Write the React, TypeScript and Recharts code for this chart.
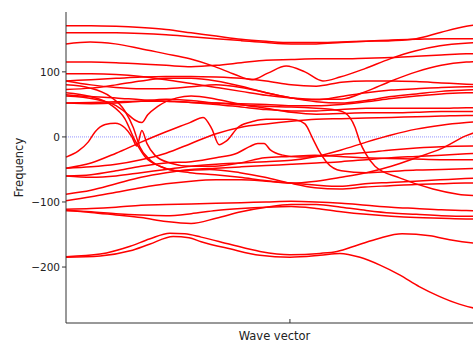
import { LineChart, Line, XAxis, YAxis, ReferenceLine } from 'recharts'

// wave-vector grid (0 = left edge, 100 = right edge of the axes)
const kGrid = [0, 6, 12, 18, 24, 30, 36, 42, 48, 54, 60, 66, 72, 78, 84, 90, 96, 100]
const kTicks = [53.7]
const freqTicks = [-200, -100, 0, 100]

// bands read on the regular grid
const band1 = [171, 171, 170, 168, 165, 160, 155, 150, 147, 145, 145, 146, 147, 148, 151, 161, 170, 174]
const band2 = [160, 160, 160, 159, 157, 154, 151, 148, 145, 143, 143, 145, 147, 149, 150, 151, 151, 151]
const band4 = [115, 115, 114, 112, 110, 108, 110, 114, 118, 119, 120, 120, 121, 122, 124, 126, 128, 128]
const band5 = [97, 97, 96, 93, 88, 82, 76, 70, 64, 60, 58, 58, 70, 86, 100, 110, 115, 116]
const band6 = [86, 88, 90, 92, 93, 93, 92, 90, 86, 80, 78, 84, 86, 86, 85, 83, 81, 80]
const band7 = [86, 80, 76, 74, 74, 77, 80, 76, 68, 60, 57, 62, 68, 72, 74, 76, 77, 77]
const band8 = [73, 75, 80, 86, 90, 90, 86, 78, 68, 60, 54, 52, 56, 62, 66, 70, 72, 73]
const band9 = [65, 62, 60, 57, 55, 53, 52, 51, 50, 48, 48, 50, 54, 59, 63, 66, 68, 68]
const band10 = [52, 53, 54, 55, 55, 53, 50, 46, 42, 40, 40, 42, 44, 44, 44, 44, 45, 45]
const band11 = [-48, -46, -42, -35, -25, -10, 5, 15, 20, 24, 27, 28, 29, 30, 31, 32, 33, 33]
const band12 = [-60, -62, -60, -55, -50, -45, -42, -40, -38, -36, -30, -20, -8, 3, 12, 18, 22, 24]
const band13 = [-88, -82, -72, -62, -55, -50, -48, -46, -44, -42, -40, -38, -35, -32, -30, -28, -26, -25]
const band14 = [-98, -92, -85, -78, -72, -68, -66, -66, -68, -71, -68, -62, -55, -45, -32, -18, 2, 11]
const band15 = [-111, -110, -108, -105, -104, -103, -102, -101, -100, -99, -100, -102, -105, -108, -110, -112, -113, -114]
const band16 = [-113, -116, -120, -124, -130, -133, -125, -115, -108, -104, -104, -108, -113, -117, -119, -121, -122, -122]
const band17 = [-113, -115, -118, -120, -121, -118, -113, -110, -108, -107, -110, -115, -119, -122, -124, -125, -126, -126]

// bands with sharper features, read on their own points [k, frequency]
const band3 = [[0, 143], [5.8, 146], [11.8, 143], [17.7, 136], [23.7, 128], [29.7, 120], [35.7, 108], [40.5, 96], [44.6, 88], [48.4, 98], [52.8, 109], [57.3, 100], [61.6, 86], [65.7, 92], [71.7, 105], [77.7, 120], [83.7, 132], [89.7, 140], [95.7, 144], [100, 145]]
const band18 = [[0, 63], [7, 58], [12, 48], [14.6, 36], [16.5, 26], [18.2, 22], [19.6, 34], [22, 47], [26.6, 60], [30, 63], [36, 58], [42, 50], [48, 44], [54, 38], [60, 35], [66, 36], [72, 37], [78, 37], [84, 38], [90, 39], [100, 39]]
const band19 = [[0, 52], [6, 51], [12, 52], [18, 55], [24, 58], [30, 56], [36, 52], [42, 49], [48, 47], [54, 46], [60, 44], [64, 42], [66.9, 37], [69.3, 15], [70.5, -8], [71.9, -26], [74.1, -45], [80, -63], [88, -80], [94, -88], [100, -91]]
const band20 = [[0, -31], [2.9, -22], [5.3, -8], [7, 8], [9.4, 19], [11.8, 21], [14.1, 14], [15.8, 0], [17, -14], [18.2, 10], [19.4, -10], [21.3, -28], [24.9, -40], [29.7, -45], [35.7, -45], [41.7, -40], [47.7, -32], [53.7, -30], [59.7, -28], [65.7, -30], [71.7, -32], [77.7, -33], [83.7, -34], [89.7, -35], [100, -35]]
const band21 = [[0, -48], [6, -40], [12, -25], [18, -8], [24, 8], [29.7, 22], [32.9, 30], [35, 12], [36.7, -12], [38.5, -6], [41.5, 16], [45, 24], [48, 27], [53, 27], [55.2, 26], [57.3, 20], [59.2, -3], [60.7, -22], [62.4, -38], [66, -52], [72, -55], [78, -53], [84, -51], [90, -50], [100, -48]]
const band22 = [[0, -60], [6, -58], [12, -52], [18, -45], [24, -40], [30, -38], [36, -32], [41, -25], [44, -15], [46, -10], [47.5, -10], [49, -20], [52, -28], [56, -31], [60, -30], [66, -27], [72, -24], [78, -20], [84, -17], [90, -15], [100, -14]]
const band23 = [[0, 80], [5.8, 75], [10.6, 62], [14.1, 40], [16.1, 15], [17.7, -15], [20.1, -35], [23.7, -48], [29.7, -55], [35.7, -58], [41.7, -62], [47.7, -67], [53.7, -71], [59.7, -74], [65.7, -76], [71.7, -72], [77.7, -70], [83.7, -68], [89.7, -66], [95.7, -64], [100, -63]]
const band24 = [[0, 68], [5.8, 62], [10.6, 50], [14.1, 28], [16.5, -5], [18.9, -30], [22.5, -45], [27.3, -52], [34.5, -50], [41.7, -55], [47.7, -62], [53.7, -71], [59.7, -78], [65.7, -80], [71.7, -77], [77.7, -75], [83.7, -73], [89.7, -72], [95.7, -71], [100, -71]]
const band25 = [[0, -184], [8.2, -180], [15.4, -168], [20, -157], [24.9, -148], [28.5, -149], [32.4, -154], [39.3, -165], [46.5, -176], [53.7, -181], [60.9, -179], [65, -176], [70, -166], [75, -156], [80.6, -149], [87.3, -152], [92, -158], [97.8, -163], [100, -164]]
const band26 = [[0, -185], [8.2, -183], [15.4, -175], [20, -165], [25.7, -153], [29.5, -155], [32.4, -161], [39.3, -172], [46.5, -182], [53.7, -185], [60.9, -182], [65.7, -179], [70.5, -185], [75.3, -197], [80, -212], [84.7, -230], [89.5, -245], [94.3, -257], [97.8, -263], [100, -265]]

const gridBands = [band1, band2, band4, band5, band6, band7, band8, band9, band10, band11, band12, band13, band14, band15, band16, band17]
const pointBands = [band3, band18, band19, band20, band21, band22, band23, band24, band25, band26]

const series = [
  ...gridBands.map((vals) => vals.map((f, i) => ({ k: kGrid[i], f }))),
  ...pointBands.map((pts) => pts.map(([k, f]) => ({ k, f }))),
]

const fmt = (v: number) => (v < 0 ? `\u2212${Math.abs(v)}` : `${v}`)

function App() {
  return (
    <div style={{ position: 'fixed', left: 0, top: 0, width: 473, height: 342, overflow: 'hidden', background: '#fff' }}>
      <LineChart
        width={500}
        height={342}
        margin={{ top: 12, right: 17, bottom: 0, left: 10 }}
        style={{ fontFamily: 'DejaVu Sans' }}
      >
        <XAxis
          xAxisId="b"
          type="number"
          dataKey="k"
          domain={[0, 100]}
          ticks={kTicks}
          tickFormatter={() => ''}
          tickSize={-4}
          height={19}
          stroke="#333"
          label={{ value: 'Wave vector', position: 'insideBottom', offset: 2.5, fill: '#222', fontSize: 11.5 }}
        />
        <XAxis
          xAxisId="t"
          orientation="top"
          type="number"
          dataKey="k"
          domain={[0, 100]}
          ticks={kTicks}
          tickFormatter={() => ''}
          tickSize={-4}
          height={0}
          stroke="#333"
        />
        <YAxis
          type="number"
          domain={[-286, 192]}
          ticks={freqTicks}
          tickFormatter={fmt}
          width={56}
          tickSize={4}
          tickMargin={2}
          stroke="#333"
          tick={{ fill: '#222', fontSize: 10.5 }}
          label={{ value: 'Frequency', angle: -90, position: 'insideLeft', offset: 9, fill: '#222', fontSize: 11.5, textAnchor: 'middle' }}
        />
        <ReferenceLine xAxisId="b" y={0} stroke="#7a7aff" strokeDasharray="1 1" strokeWidth={0.8} />
        {series.map((d, i) => (
          <Line
            key={i}
            xAxisId="b"
            data={d}
            dataKey="f"
            type="monotone"
            stroke="#ff0000"
            strokeWidth={1.5}
            dot={false}
            isAnimationActive={false}
          />
        ))}
      </LineChart>
    </div>
  )
}

export default App
